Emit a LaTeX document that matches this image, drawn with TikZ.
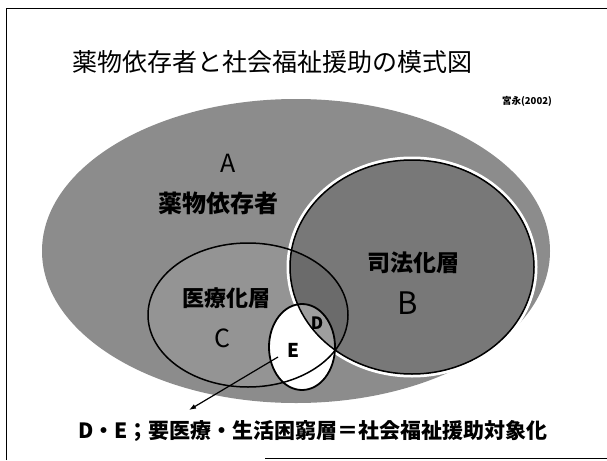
\documentclass[tikz,border=0pt]{standalone}
\usepackage{fontspec}
\newfontfamily\jp{Noto Sans CJK JP}
\usetikzlibrary{arrows.meta}
\definecolor{Afill}{gray}{0.55}
\definecolor{Bfill}{gray}{0.47}
\definecolor{Cfill}{gray}{0.58}
\definecolor{BCfill}{gray}{0.42}
\definecolor{Dfill}{gray}{0.62}
\tikzset{
  lbl/.style={font=\jp\bfseries, text=black, inner sep=0pt},
  letter/.style={font=\jp, text=black, inner sep=0pt},
  frameline/.style={line width=0.9pt, black},
  ringline/.style={line width=1.5pt, black},
}
\begin{document}
\begin{tikzpicture}[x=1pt,y=-1pt]
\useasboundingbox (0,0) rectangle (607,460);
\fill[white] (0,0) rectangle (607,460);
% frame
\coordinate (fTL) at (6,8);
\coordinate (fTR) at (607,8);
\coordinate (fBL) at (6,460);
\coordinate (fB1) at (265,458);
\coordinate (fB2) at (607,458);
\draw[frameline] (fBL) -- (fTL) -- (fTR);
\draw[frameline] (fB1) -- (fB2);
% title
\node[font=\jp, inner sep=0pt] (title) at (272,62) {\fontsize{25}{25}\selectfont 薬物依存者と社会福祉援助の模式図};
\node[lbl] (author) at (527,101) {\fontsize{9.5}{10}\selectfont 宮永(2002)};
% ellipses
\coordinate (Ac) at (296,251);
\coordinate (Bc) at (412,267);
\coordinate (Cc) at (248,315);
\coordinate (Sc) at (302,347);
\fill[Afill] (Ac) ellipse [x radius=254, y radius=152];
\fill[Cfill] (Cc) ellipse [x radius=100, y radius=72];
\fill[Bfill] (Bc) ellipse [x radius=122, y radius=107];
\begin{scope}
  \clip (Bc) ellipse [x radius=122, y radius=107];
  \fill[BCfill] (Cc) ellipse [x radius=100, y radius=72];
\end{scope}
\draw[white, line width=3pt] (Bc) ellipse [x radius=124, y radius=109];
\draw[ringline] (Bc) ellipse [x radius=122, y radius=107];
\draw[ringline] (Cc) ellipse [x radius=100, y radius=72];
% small ellipse D/E
\fill[white] (Sc) ellipse [x radius=33, y radius=43];
\begin{scope}
  \clip (Sc) ellipse [x radius=33, y radius=43];
  \clip (Bc) ellipse [x radius=122, y radius=107];
  \fill[Dfill] (Cc) ellipse [x radius=100, y radius=72];
\end{scope}
\begin{scope}
  \clip (Sc) ellipse [x radius=33, y radius=43];
  \draw[ringline] (Bc) ellipse [x radius=122, y radius=107];
  \draw[ringline] (Cc) ellipse [x radius=100, y radius=72];
\end{scope}
\draw[line width=1.8pt] (Sc) ellipse [x radius=33, y radius=43];
% labels
\node[letter] (lA) at (228,163) {\fontsize{25}{25}\selectfont A};
\node[lbl] (lAt) at (218,203) {\fontsize{24}{24}\selectfont 薬物依存者};
\node[lbl] (lBt) at (413,263) {\fontsize{23}{23}\selectfont 司法化層};
\node[letter] (lB) at (408,303) {\fontsize{31}{31}\selectfont B};
\node[lbl] (lCt) at (226,298) {\fontsize{22}{22}\selectfont 医療化層};
\node[letter] (lC) at (222,338) {\fontsize{25}{25}\selectfont C};
\node[lbl] (lD) at (317,323) {\fontsize{17}{17}\selectfont D};
\node[lbl] (lE) at (293,350) {\fontsize{19}{19}\selectfont E};
% arrow
\coordinate (arS) at (278,357);
\coordinate (arE) at (189,410);
\draw[line width=1.2pt, -{Latex[length=7pt,width=5pt]}] (arS) -- (arE);
% bottom text
\node[lbl] (bottom) at (313,431) {\fontsize{21}{21}\selectfont D・E；要医療・生活困窮層＝社会福祉援助対象化};
\end{tikzpicture}
\end{document}
